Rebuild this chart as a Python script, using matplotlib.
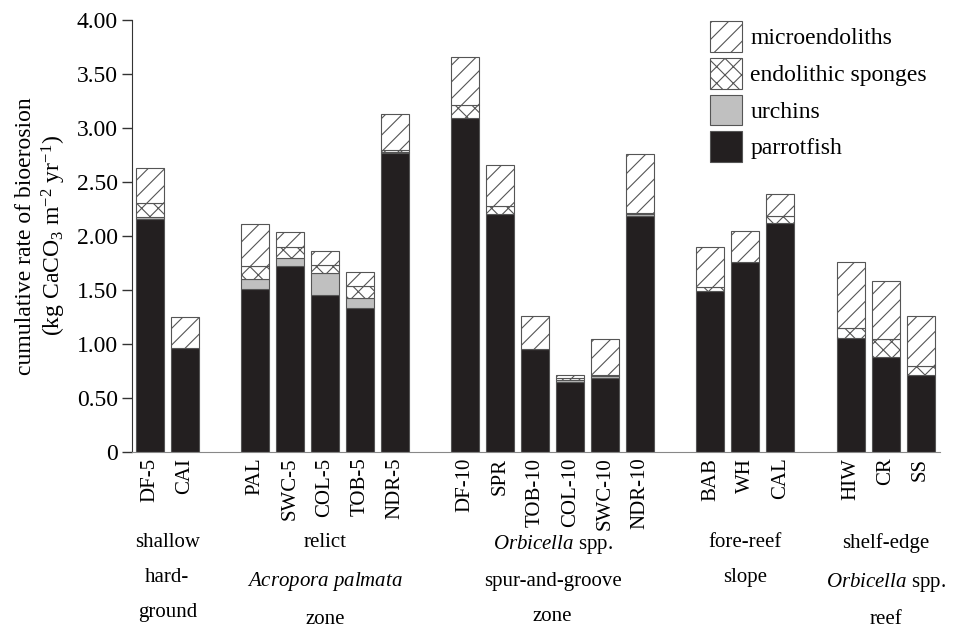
import numpy as np
import matplotlib
matplotlib.use("Agg")
import matplotlib.pyplot as plt
from matplotlib.transforms import blended_transform_factory

plt.rcParams['font.family'] = ['Liberation Serif', 'DejaVu Serif']
plt.rcParams['mathtext.fontset'] = 'custom'
plt.rcParams['mathtext.rm'] = 'Liberation Serif'
plt.rcParams['mathtext.it'] = 'Liberation Serif:italic'
plt.rcParams['hatch.linewidth'] = 0.8

# sites in plotting order, None = gap between groups
sites = ['DF-5', 'CAI', None,
         'PAL', 'SWC-5', 'COL-5', 'TOB-5', 'NDR-5', None,
         'DF-10', 'SPR', 'TOB-10', 'COL-10', 'SWC-10', 'NDR-10', None,
         'BAB', 'WH', 'CAL', None,
         'HIW', 'CR', 'SS']

parrotfish = [2.16, 0.96, 1.51, 1.72, 1.45, 1.33, 2.77,
              3.09, 2.20, 0.95, 0.65, 0.69, 2.19,
              1.49, 1.76, 2.12, 1.06, 0.88, 0.71]
urchins = [0.02, 0.00, 0.09, 0.08, 0.21, 0.10, 0.01,
           0.00, 0.00, 0.00, 0.02, 0.01, 0.01,
           0.00, 0.00, 0.00, 0.00, 0.00, 0.00]
sponges = [0.13, 0.00, 0.12, 0.10, 0.07, 0.11, 0.02,
           0.12, 0.08, 0.00, 0.02, 0.01, 0.01,
           0.04, 0.00, 0.07, 0.09, 0.17, 0.09]
microendoliths = [0.32, 0.29, 0.39, 0.14, 0.13, 0.13, 0.33,
                  0.45, 0.38, 0.31, 0.02, 0.34, 0.55,
                  0.37, 0.29, 0.20, 0.61, 0.53, 0.46]

groups = [('shallow\nhard-\nground', 0.5),
          ('relict\n$\\it{Acropora\\ palmata}$\nzone', 5),
          ('$\\it{Orbicella}$ spp.\nspur-and-groove\nzone', 11.5),
          ('fore-reef\nslope', 17),
          ('shelf-edge\n$\\it{Orbicella}$ spp.\nreef', 21)]

x = np.array([i for i, s in enumerate(sites) if s is not None])
labels = [s for s in sites if s is not None]

fs = 17
fig = plt.figure(figsize=(9.61, 6.44), dpi=100)
ax = fig.add_axes([0.137, 0.298, 0.841, 0.671])

edge = '#555555'
w = 0.8
b = np.zeros(len(x))
ax.bar(x, parrotfish, w, bottom=b, color='#231f20', edgecolor=edge, linewidth=0.8, label='parrotfish')
b += parrotfish
ax.bar(x, urchins, w, bottom=b, color='#c0c0c0', edgecolor=edge, linewidth=0.8, label='urchins')
b += urchins
ax.bar(x, sponges, w, bottom=b, color='white', edgecolor=edge, hatch='xx', linewidth=0.8, label='endolithic sponges')
b += sponges
ax.bar(x, microendoliths, w, bottom=b, color='white', edgecolor=edge, hatch='//', linewidth=0.8, label='microendoliths')

ax.set_xlim(-0.52, 22.55)
ax.set_ylim(0, 4.0)
ax.set_yticks(np.arange(0, 4.01, 0.5))
ax.set_yticklabels(['0'] + ['%.2f' % v for v in np.arange(0.5, 4.01, 0.5)])
ax.set_xticks(x)
ax.set_xticklabels(labels, rotation=90, va='top')
ax.tick_params(axis='x', length=0, pad=4, labelsize=15)
ax.tick_params(axis='y', direction='out', length=7, width=1, labelsize=fs, color='#333333', pad=3)
for s in ['top', 'right']:
    ax.spines[s].set_visible(False)
ax.spines['left'].set_color('#333333')
ax.spines['bottom'].set_color('#888888')

ax.set_ylabel('cumulative rate of bioerosion\n(kg CaCO$_3$ m$^{-2}$ yr$^{-1}$)', fontsize=fs, labelpad=6)

h, l = ax.get_legend_handles_labels()
ax.legend(h[::-1], l[::-1], loc='upper left', bbox_to_anchor=(0.716, 0.997), frameon=False,
          borderpad=0, borderaxespad=0, fontsize=fs, handlelength=1.36, handleheight=1.63,
          labelspacing=0.25, handletextpad=0.34)

trans = blended_transform_factory(ax.transData, fig.transFigure)
for name, pos in groups:
    ax.text(pos, 1 - 533 / 644, name, transform=trans, ha='center', va='top',
            fontsize=15, linespacing=2.15)

fig.savefig('out.png', dpi=100)
